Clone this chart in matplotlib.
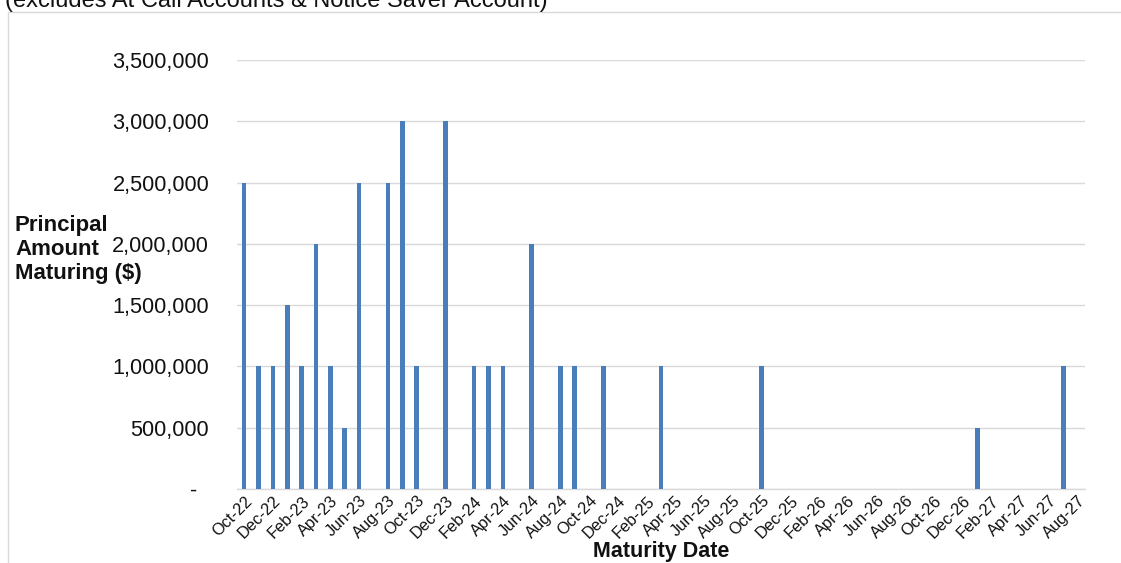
import matplotlib
matplotlib.use("Agg")
import matplotlib.pyplot as plt
from matplotlib.patches import Rectangle
from matplotlib.ticker import FuncFormatter

plt.rcParams['font.family'] = ['Liberation Sans', 'DejaVu Sans']

# Monthly maturity buckets, Oct-22 through Aug-27
month_names = ["Jan", "Feb", "Mar", "Apr", "May", "Jun",
               "Jul", "Aug", "Sep", "Oct", "Nov", "Dec"]
start_year, start_month = 2022, 10
n_months = 59
months = []
for k in range(n_months):
    m = (start_month - 1 + k) % 12
    y = start_year + (start_month - 1 + k) // 12
    months.append(f"{month_names[m]}-{y % 100:02d}")

# Principal maturing in each month (months not listed mature nothing)
maturities = {
    "Oct-22": 2500000, "Nov-22": 1000000, "Dec-22": 1000000,
    "Jan-23": 1500000, "Feb-23": 1000000, "Mar-23": 2000000,
    "Apr-23": 1000000, "May-23": 500000, "Jun-23": 2500000,
    "Aug-23": 2500000, "Sep-23": 3000000, "Oct-23": 1000000,
    "Dec-23": 3000000, "Feb-24": 1000000, "Mar-24": 1000000,
    "Apr-24": 1000000, "Jun-24": 2000000, "Aug-24": 1000000,
    "Sep-24": 1000000, "Nov-24": 1000000, "Mar-25": 1000000,
    "Oct-25": 1000000, "Jan-27": 500000, "Jul-27": 1000000,
}
amounts = [maturities.get(m, 0) for m in months]

y_ticks = [0, 500000, 1000000, 1500000, 2000000, 2500000, 3000000, 3500000]

W, H = 1121, 563
fig = plt.figure(figsize=(W / 100, H / 100), dpi=100)
fig.patch.set_facecolor("white")

# light frame around the chart area
fig.add_artist(Rectangle((8 / W, -0.05), 1.2, 1 - 12 / H + 0.05,
                         transform=fig.transFigure, fill=False,
                         edgecolor="#d9d9d9", linewidth=1.0))

ax = fig.add_axes([237 / W, 1 - 489 / H, (1085 - 237) / W, (489 - 60) / H])

x = list(range(n_months))
ax.bar(x, amounts, width=0.32, color="#4a7ebb", zorder=3)

ax.set_xlim(-0.5, n_months - 0.5)
ax.set_ylim(0, 3500000)
ax.set_yticks(y_ticks)

def fmt(v, pos):
    if v == 0:
        return "-  "
    return f"{int(v):,}"

ax.yaxis.set_major_formatter(FuncFormatter(fmt))
ax.tick_params(axis="y", length=0, pad=20, labelsize=15.7, labelcolor="#111111")
ax.grid(axis="y", color="#d9d9d9", linewidth=1.0, zorder=0)

ax.set_xticks(x[::2])
ax.set_xticklabels(months[::2], rotation=45, ha="right", rotation_mode="anchor",
                   fontsize=11.8, color="#111111")
ax.tick_params(axis="x", length=0, pad=3)

for side in ("top", "right", "left"):
    ax.spines[side].set_visible(False)
ax.spines["bottom"].set_color("#d9d9d9")
ax.spines["bottom"].set_linewidth(1.0)

fig.text(15 / W, 1 - 249.5 / H, "Principal\nAmount\nMaturing ($)",
         fontsize=16, fontweight="bold", ha="left", va="center",
         linespacing=1.17, color="#111111")
fig.text(661 / W, 1 - 552 / H, "Maturity Date", fontsize=15.5,
         fontweight="bold", ha="center", va="center", color="#111111")
fig.text(5 / W, 1 - 7 / H, "(excludes At Call Accounts & Notice Saver Account)",
         fontsize=17, ha="left", va="baseline", color="#111111")

fig.savefig("out.png", dpi=100, facecolor="white")
